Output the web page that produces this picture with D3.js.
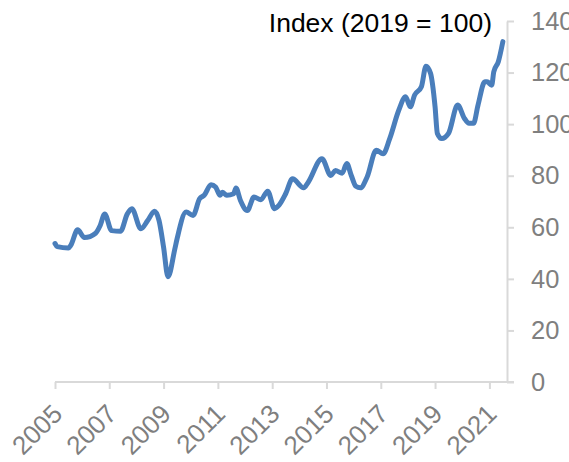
<!DOCTYPE html>
<html>
<head>
<meta charset="utf-8">
<script src="https://cdn.jsdelivr.net/npm/d3@7"></script>
<style>
  body { margin: 0; background: #fff; }
  svg { display: block; }
</style>
</head>
<body>
<script>
// monthly readings (yyyy-mm) and index values
var months = ["2005-01","2005-02","2005-07","2005-08","2005-11","2006-02","2006-07","2006-09","2006-11",
  "2007-02","2007-06","2007-09","2007-11","2008-03","2008-06","2008-09","2008-11","2009-01","2009-03",
  "2009-06","2009-07","2009-11","2010-02","2010-05","2010-07","2010-10","2010-12","2011-02","2011-03",
  "2011-05","2011-08","2011-09","2011-11","2012-02","2012-05","2012-08","2012-11","2013-02","2013-04",
  "2013-07","2013-10","2014-03","2014-05","2014-11","2015-03","2015-05","2015-08","2015-10","2015-12",
  "2016-02","2016-04","2016-07","2016-11","2017-02","2017-05","2017-09","2017-12","2018-02","2018-04",
  "2018-07","2018-09","2018-11","2019-01","2019-02","2019-04","2019-07","2019-11","2020-02","2020-04",
  "2020-06","2020-08","2020-11","2020-12","2021-02","2021-03","2021-05","2021-07"];
var index = [53.7,52.5,52.0,53.0,59.0,56.0,57.7,60.7,65.2,
  58.7,58.5,65.2,67.2,59.4,62.6,66.2,62.6,52.2,40.8,
  51.6,55.5,65.9,64.6,71.1,72.4,76.5,75.6,72.4,73.6,
  72.4,73.0,75.2,70.4,66.5,71.7,70.7,74.0,67.2,68.5,
  73.0,78.8,75.3,77.5,86.6,80.1,82.0,81.0,84.7,80.1,
  75.9,75.3,79.5,89.9,88.5,94.4,105.5,110.6,106.7,111.3,
  114.5,122.5,119.7,106.7,96.4,94.4,96.4,107.4,102.2,100.3,
  100.3,107.4,116.4,116.4,115.1,120.3,124.2,132.0];
var yearTicks = [2005,2007,2009,2011,2013,2015,2017,2019,2021];
var valueTicks = [0,20,40,60,80,100,120,140];
var titleText = "Index (2019 = 100)";

var W = 569, H = 462;
var plotLeft = 55, axisX = 507, plotTop = 21, plotBottom = 382;
var parseMonth = d3.timeParse("%Y-%m");

var data = months.map(function(m, i) { return {date: parseMonth(m), value: index[i]}; });

var x = d3.scaleTime()
    .domain([new Date(2005, 0, 1), new Date(2021, 0, 1)])
    .range([plotLeft, plotLeft + 16 * 27.15]);
var y = d3.scaleLinear().domain([0, 140]).range([plotBottom, plotTop]);

var svg = d3.select("body").append("svg")
    .attr("width", W)
    .attr("height", H)
    .style("font-family", "'Liberation Sans', Arial, sans-serif");

// x axis
var xAxis = svg.append("g")
    .attr("transform", "translate(0," + plotBottom + ")")
    .call(d3.axisBottom(x)
      .tickValues(yearTicks.map(function(yr) { return new Date(yr, 0, 1); }))
      .tickFormat(d3.timeFormat("%Y"))
      .tickSize(7)
      .tickSizeOuter(0));
xAxis.select(".domain").remove();
xAxis.append("line")
    .attr("x1", plotLeft).attr("x2", axisX + 7)
    .attr("stroke", "#d9d9d9").attr("stroke-width", 2);
xAxis.selectAll(".tick line").attr("stroke", "#d9d9d9").attr("stroke-width", 2);
xAxis.selectAll(".tick text")
    .attr("x", 0).attr("y", 0).attr("dy", "0.35em")
    .attr("transform", "translate(2,27) rotate(-45)")
    .style("text-anchor", "end")
    .attr("fill", "#7f7f7f")
    .attr("font-size", 26);

// y axis on the right
var yAxis = svg.append("g")
    .attr("transform", "translate(" + axisX + ",0)")
    .call(d3.axisRight(y).tickValues(valueTicks).tickSize(7).tickSizeOuter(0).tickPadding(17));
yAxis.select(".domain").attr("stroke", "#d9d9d9").attr("stroke-width", 2);
yAxis.selectAll(".tick line").attr("stroke", "#d9d9d9").attr("stroke-width", 2);
yAxis.selectAll(".tick text")
    .attr("fill", "#7f7f7f")
    .attr("font-size", 25.5);

// the line
var valueline = d3.line()
    .curve(d3.curveMonotoneX)
    .x(function(d) { return x(d.date); })
    .y(function(d) { return y(d.value); });

svg.append("path")
    .datum(data)
    .attr("fill", "none")
    .attr("stroke", "#4a7ebb")
    .attr("stroke-width", 5)
    .attr("stroke-linejoin", "round")
    .attr("stroke-linecap", "round")
    .attr("d", valueline);

// title
svg.append("text")
    .attr("x", 492)
    .attr("y", 32)
    .style("text-anchor", "end")
    .attr("font-size", 26.5)
    .attr("fill", "#000")
    .text(titleText);
</script>
</body>
</html>
